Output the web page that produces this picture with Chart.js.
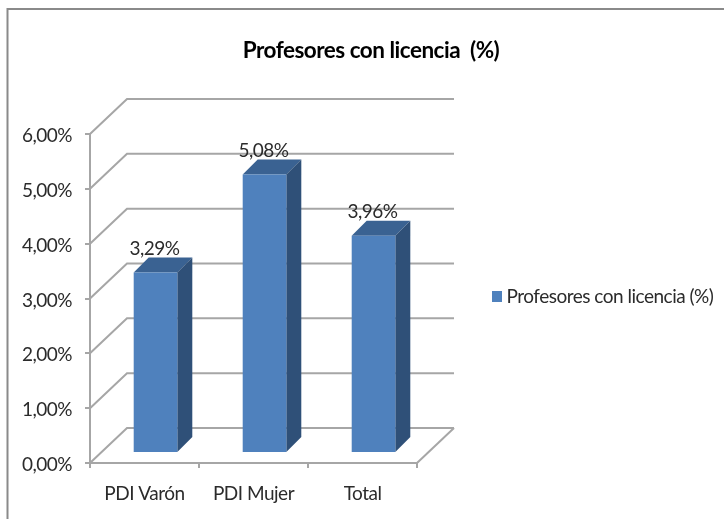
<!DOCTYPE html>
<html><head><meta charset="utf-8">
<style>html,body{margin:0;padding:0;background:#fff}#w{width:724px;height:519px}</style>
<script src="https://cdn.jsdelivr.net/npm/chart.js@4"></script></head>
<body><div id="w"><canvas id="c" width="724" height="519"></canvas></div>
<script>
const categories = ['PDI Varón', 'PDI Mujer', 'Total'];
const seriesName = 'Profesores con licencia (%)';
const seriesValues = [3.29, 5.08, 3.96];
const chartTitle = 'Profesores con licencia  (%)';
const fontName = 'Lato';
const barColor = '#4f81bd';
const fmt = v => Number(v).toFixed(2).replace('.', ',') + '%';
const wallX = 37, wallY = -35, barX = 11, barY = -10, depthX = 15, depthY = -15;

const swatch = document.createElement('canvas');
swatch.width = 10; swatch.height = 11;
const sc = swatch.getContext('2d'); sc.fillStyle = barColor; sc.fillRect(0, 0, 10, 11);

const frame = { id: 'frame',
  beforeLayout(ch) { ch.ctx.letterSpacing = '-0.5px'; },
  beforeDraw(ch) {
    const c = ch.ctx; c.letterSpacing = '-0.5px'; c.save(); c.fillStyle = '#fff'; c.fillRect(0, 0, 724, 519);
    c.strokeStyle = '#8a8a8a'; c.lineWidth = 2;
    c.beginPath(); c.moveTo(7.5, 519); c.lineTo(7.5, 9); c.lineTo(724, 9); c.stroke(); c.restore();
  }
};
const walls = { id: 'walls', beforeDatasetsDraw(ch) {
  const c = ch.ctx, y = ch.scales.y, x = ch.scales.x;
  c.save(); c.strokeStyle = '#a6a6a6'; c.lineWidth = 2;
  y.ticks.forEach(t => {
    const py = y.getPixelForValue(t.value);
    c.beginPath(); c.moveTo(x.left, py); c.lineTo(x.left + wallX, py + wallY); c.lineTo(x.right + wallX, py + wallY); c.stroke();
  });
  const b = y.getPixelForValue(0);
  c.beginPath(); c.moveTo(x.right, b); c.lineTo(x.right + wallX, b + wallY); c.stroke();
  c.restore();
}};
const bars3d = { id: 'bars3d',
  beforeDatasetsDraw(ch) {
    const c = ch.ctx; c.save(); c.translate(barX, barY);
    ch.getDatasetMeta(0).data.forEach(b => {
      const l = b.x - b.width / 2, r = b.x + b.width / 2, t = b.y, bt = b.base;
      c.fillStyle = '#3a6292';
      c.beginPath(); c.moveTo(l, t); c.lineTo(l + depthX, t + depthY); c.lineTo(r + depthX, t + depthY); c.lineTo(r, t); c.closePath(); c.fill();
      c.fillStyle = '#2f5078';
      c.beginPath(); c.moveTo(r, t); c.lineTo(r + depthX, t + depthY); c.lineTo(r + depthX, bt + depthY); c.lineTo(r, bt); c.closePath(); c.fill();
    });
  },
  afterDatasetsDraw(ch) {
    const c = ch.ctx; c.restore(); c.save();
    c.fillStyle = '#2b2b2b'; c.font = '19px ' + fontName; c.textAlign = 'center'; c.textBaseline = 'middle';
    ch.getDatasetMeta(0).data.forEach((b, i) => c.fillText(fmt(seriesValues[i]), b.x + 10, b.y - 34));
    c.restore();
  }
};
const place = { id: 'place',
  afterInit(ch) { const f = ch.legend.fit; ch.legend.fit = function () { f.call(this); this.width = 307; }; },
  afterLayout(ch) { const l = ch.legend; l.left = 486; l.right = 724; l.top = 277; l.bottom = 323; }
};
new Chart(document.getElementById('c'), {
  type: 'bar',
  data: { labels: categories, datasets: [{ label: seriesName, data: seriesValues, backgroundColor: barColor, barPercentage: 0.4, categoryPercentage: 1 }] },
  plugins: [frame, walls, bars3d, place],
  options: {
    responsive: false, animation: false, events: [],
    layout: { padding: { left: 18, right: 0, top: 0, bottom: 0 }, autoPadding: false },
    plugins: {
      tooltip: { enabled: false },
      title: { display: true, text: chartTitle, color: '#000', font: { family: fontName, size: 22.5, weight: 'bold' }, padding: { top: 37, bottom: 70 } },
      legend: { position: 'right', align: 'start', labels: { usePointStyle: true, pointStyle: swatch, pointStyleWidth: 1, boxHeight: 11, padding: 10, color: '#2b2b2b', font: { family: fontName, size: 19 } } }
    },
    scales: {
      x: { afterFit: s => { s.height = 56; }, border: { color: '#a6a6a6', width: 2 },
        grid: { drawOnChartArea: false, color: '#a6a6a6', lineWidth: 2, tickLength: 5 },
        ticks: { color: '#2b2b2b', padding: 14, font: { family: fontName, size: 19 } } },
      y: { min: 0, max: 6, afterFit: s => { s.width = 72; }, border: { color: '#a6a6a6', width: 2 },
        grid: { drawOnChartArea: false, color: '#a6a6a6', lineWidth: 2, tickLength: 5 },
        ticks: { stepSize: 1, color: '#2b2b2b', padding: 13, labelOffset: 2, callback: fmt, font: { family: fontName, size: 19 } } }
    }
  }
});
</script></body></html>
